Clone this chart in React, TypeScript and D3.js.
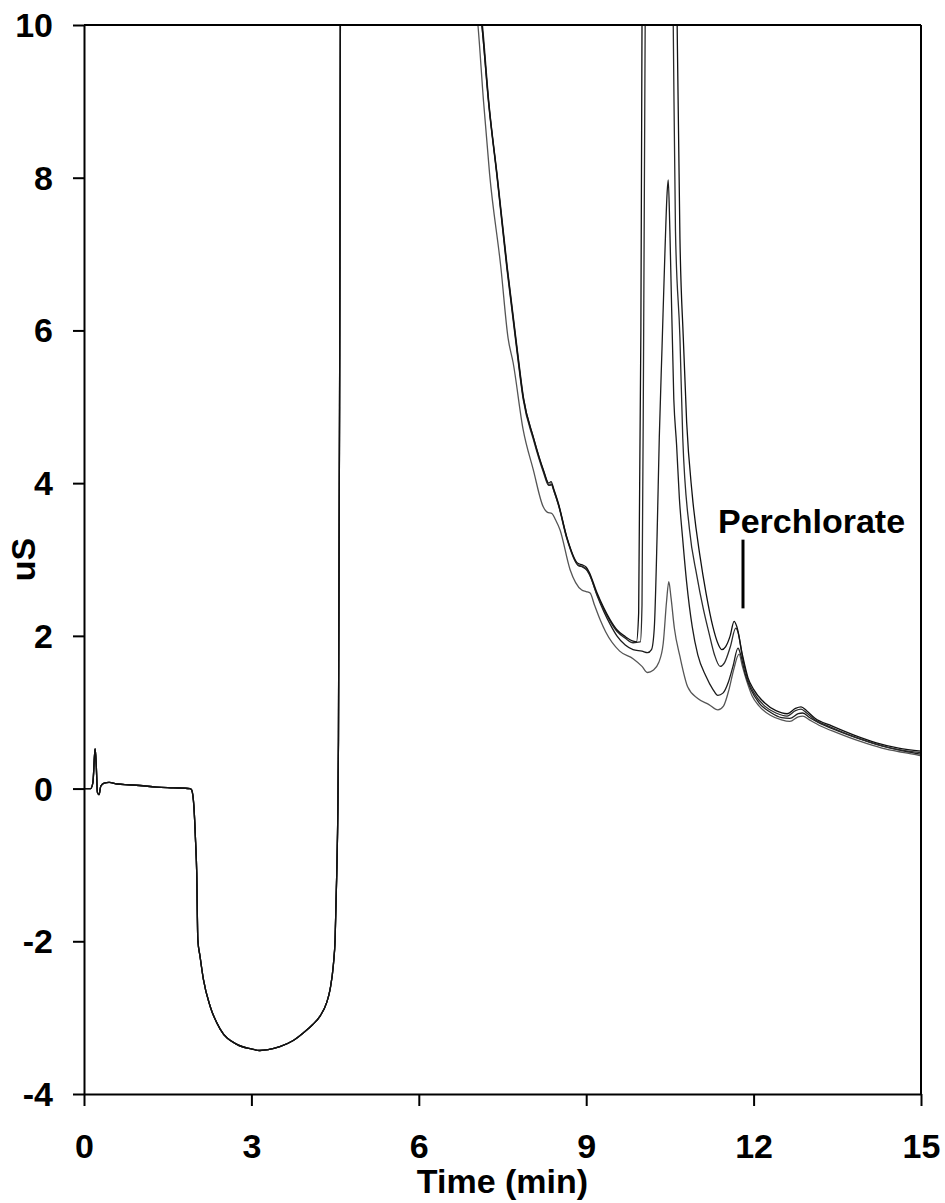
import * as d3 from 'd3';
import React, { useEffect, useRef } from 'react';

type Pt = [number, number];

// shared start of all four runs: dip, then the void peak that runs off the top
const injection: Pt[] = [
    [0, 0], [0.12, 0], [0.16, 0.08], [0.19, 0.45], [0.2, 0.52], [0.22, 0.3], [0.24, -0.05], [0.27, -0.08],
    [0.3, 0.03], [0.36, 0.07], [0.45, 0.08], [0.6, 0.06], [0.8, 0.05], [1.0, 0.04], [1.3, 0.02], [1.6, 0.01],
    [1.9, 0], [1.93, -0.02], [1.97, -0.24], [2.0, -0.7], [2.02, -1.1], [2.04, -1.98], [2.08, -2.2], [2.14, -2.5],
    [2.26, -2.85], [2.44, -3.15], [2.74, -3.35], [3.0, -3.41], [3.15, -3.43], [3.3, -3.42], [3.51, -3.38],
    [3.75, -3.3], [3.93, -3.2], [4.1, -3.09], [4.23, -2.98], [4.35, -2.8], [4.41, -2.63], [4.47, -2.3],
    [4.5, -1.98], [4.53, -1.1], [4.55, -0.24], [4.56, 0.62], [4.58, 5], [4.6, 12], [4.65, 60], [6.85, 60],
];

const trace1Tail: Pt[] = [
    [6.95, 11], [7.13, 10], [7.25, 9.0], [7.4, 8.04], [7.58, 6.83], [7.76, 5.75], [7.87, 5.13], [8.05, 4.61],
    [8.23, 4.18], [8.33, 4.0], [8.37, 4.02], [8.42, 3.92], [8.5, 3.74], [8.65, 3.3], [8.85, 2.95], [8.93, 2.93],
    [9.0, 2.9], [9.05, 2.84], [9.19, 2.57], [9.43, 2.21], [9.55, 2.08], [9.7, 1.99], [9.84, 1.93], [9.9, 1.92],
    [9.94, 2.3], [9.98, 6], [10.0, 10], [10.02, 14], [10.3, 40], [10.6, 12], [10.63, 10], [10.68, 7.2],
    [10.74, 5.9], [10.8, 4.8], [10.9, 3.85], [11.04, 3.04], [11.15, 2.55], [11.27, 2.12], [11.35, 1.92],
    [11.43, 1.82], [11.5, 1.86], [11.58, 2.0], [11.65, 2.19], [11.7, 2.12], [11.8, 1.75], [11.9, 1.45],
    [12.0, 1.3], [12.2, 1.12], [12.4, 1.02], [12.6, 0.98], [12.75, 1.05], [12.85, 1.07], [12.95, 1.02],
    [13.1, 0.92], [13.4, 0.82], [13.8, 0.7], [14.2, 0.6], [14.6, 0.53], [15, 0.49],
];

const trace2Tail: Pt[] = [
    [6.95, 11], [7.13, 10], [7.25, 8.98], [7.4, 8.02], [7.58, 6.8], [7.76, 5.72], [7.87, 5.1], [8.05, 4.58],
    [8.23, 4.15], [8.33, 3.97], [8.37, 3.99], [8.42, 3.9], [8.5, 3.72], [8.65, 3.28], [8.85, 2.93], [8.93, 2.91],
    [9.0, 2.88], [9.05, 2.82], [9.19, 2.55], [9.43, 2.19], [9.55, 2.06], [9.7, 1.97], [9.84, 1.91], [9.97, 1.92],
    [10.0, 2.4], [10.03, 6], [10.06, 10.5], [10.3, 40], [10.53, 12], [10.56, 10], [10.6, 7.3], [10.68, 5.9],
    [10.73, 4.6], [10.85, 3.4], [10.98, 2.8], [11.1, 2.35], [11.2, 2.04], [11.3, 1.75], [11.4, 1.6],
    [11.48, 1.65], [11.58, 1.85], [11.68, 2.1], [11.72, 2.05], [11.8, 1.72], [11.9, 1.42], [12.0, 1.26],
    [12.2, 1.08], [12.4, 0.99], [12.6, 0.95], [12.75, 1.02], [12.85, 1.04], [12.95, 0.99], [13.1, 0.9],
    [13.4, 0.8], [13.8, 0.68], [14.2, 0.58], [14.6, 0.51], [15, 0.47],
];

const trace3Tail: Pt[] = [
    [6.95, 11], [7.14, 10], [7.26, 8.95], [7.41, 8.0], [7.59, 6.8], [7.77, 5.72], [7.88, 5.1], [8.06, 4.58],
    [8.24, 4.15], [8.34, 3.97], [8.38, 3.98], [8.43, 3.88], [8.51, 3.7], [8.66, 3.27], [8.86, 2.92], [8.94, 2.9],
    [9.01, 2.86], [9.06, 2.8], [9.2, 2.52], [9.43, 2.15], [9.55, 2.0], [9.7, 1.88], [9.84, 1.82], [10.0, 1.8],
    [10.1, 1.78], [10.17, 1.82], [10.22, 2.1], [10.27, 3.3], [10.31, 4.6], [10.36, 5.8], [10.41, 7.0],
    [10.45, 7.8], [10.47, 7.97], [10.5, 7.3], [10.57, 5.1], [10.62, 4.5], [10.67, 3.8], [10.73, 3.26],
    [10.8, 2.7], [10.9, 2.12], [11.0, 1.75], [11.14, 1.48], [11.27, 1.3], [11.36, 1.22], [11.45, 1.25],
    [11.55, 1.4], [11.63, 1.6], [11.72, 1.84], [11.77, 1.75], [11.85, 1.5], [11.95, 1.3], [12.1, 1.12],
    [12.3, 1.0], [12.5, 0.93], [12.65, 0.92], [12.8, 0.98], [12.88, 0.99], [13.0, 0.93], [13.2, 0.85],
    [13.5, 0.76], [13.9, 0.65], [14.3, 0.56], [14.7, 0.49], [15, 0.45],
];

const trace4Tail: Pt[] = [
    [6.9, 11], [7.06, 10], [7.16, 9.0], [7.27, 8.04], [7.47, 6.83], [7.6, 5.9], [7.69, 5.58], [7.87, 4.7],
    [8.05, 4.18], [8.23, 3.69], [8.3, 3.62], [8.39, 3.6], [8.45, 3.52], [8.53, 3.39], [8.71, 2.87], [8.92, 2.6],
    [9.0, 2.58], [9.07, 2.56], [9.15, 2.4], [9.25, 2.21], [9.35, 2.05], [9.6, 1.8], [9.84, 1.7], [10.0, 1.6],
    [10.1, 1.52], [10.2, 1.55], [10.3, 1.65], [10.38, 1.9], [10.44, 2.45], [10.48, 2.71], [10.52, 2.5],
    [10.58, 2.1], [10.68, 1.73], [10.82, 1.33], [11.0, 1.18], [11.2, 1.1], [11.36, 1.03], [11.46, 1.08],
    [11.56, 1.3], [11.64, 1.55], [11.74, 1.76], [11.8, 1.6], [11.88, 1.4], [11.97, 1.22], [12.1, 1.08],
    [12.3, 0.96], [12.5, 0.9], [12.65, 0.88], [12.8, 0.94], [12.88, 0.95], [13.0, 0.9], [13.2, 0.82],
    [13.5, 0.73], [13.9, 0.62], [14.3, 0.53], [14.7, 0.47], [15, 0.43],
];

const traceColors = ['#111111', '#2b2b2b', '#1c1c1c', '#555555'];
const xTicks = [0, 3, 6, 9, 12, 15];
const yTicks = [-4, -2, 0, 2, 4, 6, 8, 10];
const xTitle = 'Time (min)';
const yTitle = 'uS';
const peakLabel = 'Perchlorate';
const peakTime = 11.81;

export default () => {
    const ref = useRef<any>();

    useEffect(() => {
        const dimensions: any = {
            width: 945,
            height: 1203,
            margin: { top: 25, right: 24, bottom: 109, left: 84 },
        };
        dimensions.boundedWidth = dimensions.width - dimensions.margin.left - dimensions.margin.right;
        dimensions.boundedHeight = dimensions.height - dimensions.margin.top - dimensions.margin.bottom;

        const font = '"Liberation Sans", Arial, Helvetica, sans-serif';

        const svg = d3.select<any, any>(ref.current)
            .attr('width', dimensions.width)
            .attr('height', dimensions.height);
        svg.selectAll('*').remove();

        const stage = svg.append('g')
            .attr('transform', `translate(${dimensions.margin.left}, ${dimensions.margin.top})`);

        const xScale = d3.scaleLinear().domain([0, 15]).range([0, dimensions.boundedWidth]);
        const yScale = d3.scaleLinear().domain([-4, 10]).range([dimensions.boundedHeight, 0]);

        svg.append('defs').append('clipPath').attr('id', 'plot-clip')
            .append('rect')
            .attr('width', dimensions.boundedWidth)
            .attr('height', dimensions.boundedHeight);

        const line = d3.line<Pt>()
            .x(d => xScale(d[0]))
            .y(d => yScale(d[1]))
            .curve(d3.curveMonotoneX);

        const traces = [trace1Tail, trace2Tail, trace3Tail, trace4Tail].map(tail => [...injection, ...tail]);

        const dataArea = stage.append('g').attr('clip-path', 'url(#plot-clip)');
        // lowest run first so the darker ones sit on top
        [3, 2, 1, 0].forEach(i => {
            dataArea.append('path')
                .datum(traces[i])
                .attr('fill', 'none')
                .attr('stroke', traceColors[i])
                .attr('stroke-width', 1.3)
                .attr('stroke-linejoin', 'round')
                .attr('d', line);
        });

        // axes
        const yAxis = d3.axisLeft(yScale).tickValues(yTicks).tickSize(11).tickSizeOuter(0).tickPadding(20)
            .tickFormat((d: any) => String(d));
        const xAxis = d3.axisBottom(xScale).tickValues(xTicks).tickSize(12).tickSizeOuter(0)
            .tickFormat((d: any) => String(d));

        const yG = stage.append('g').call(yAxis);
        const xG = stage.append('g').attr('transform', `translate(0, ${dimensions.boundedHeight})`).call(xAxis);

        [xG, yG].forEach(g => {
            g.select('.domain').attr('stroke', '#000').attr('stroke-width', 2);
            g.selectAll('.tick line').attr('stroke', '#000').attr('stroke-width', 2);
            g.selectAll('.tick text')
                .attr('fill', '#000')
                .style('font-family', font)
                .style('font-weight', 'bold')
                .style('font-size', '34px');
        });
        xG.selectAll('.tick text').attr('y', 64).attr('dy', null);
        yG.selectAll('.tick text').attr('dy', '0.34em');

        // frame top / right
        stage.append('line')
            .attr('x1', 0).attr('x2', dimensions.boundedWidth)
            .attr('y1', 0).attr('y2', 0)
            .attr('stroke', '#000').attr('stroke-width', 2);
        stage.append('line')
            .attr('x1', dimensions.boundedWidth).attr('x2', dimensions.boundedWidth)
            .attr('y1', 0).attr('y2', dimensions.boundedHeight)
            .attr('stroke', '#000').attr('stroke-width', 2);

        // titles
        stage.append('text')
            .attr('x', dimensions.boundedWidth / 2)
            .attr('y', dimensions.boundedHeight + 99)
            .attr('text-anchor', 'middle')
            .style('font-family', font).style('font-weight', 'bold').style('font-size', '34px')
            .text(xTitle);
        stage.append('text')
            .attr('transform', `translate(${-49}, ${dimensions.boundedHeight / 2}) rotate(-90)`)
            .attr('text-anchor', 'middle')
            .style('font-family', font).style('font-weight', 'bold').style('font-size', '34px')
            .text(yTitle);

        // perchlorate marker
        stage.append('line')
            .attr('x1', xScale(peakTime)).attr('x2', xScale(peakTime))
            .attr('y1', yScale(3.26)).attr('y2', yScale(2.36))
            .attr('stroke', '#000').attr('stroke-width', 3);
        stage.append('text')
            .attr('x', xScale(peakTime) - 25)
            .attr('y', yScale(3.35))
            .style('font-family', font).style('font-weight', 'bold').style('font-size', '34px')
            .text(peakLabel);
    }, []);

    return (
        <svg ref={ref} style={{ position: 'absolute', left: 0, top: 0 }}></svg>
    );
};
